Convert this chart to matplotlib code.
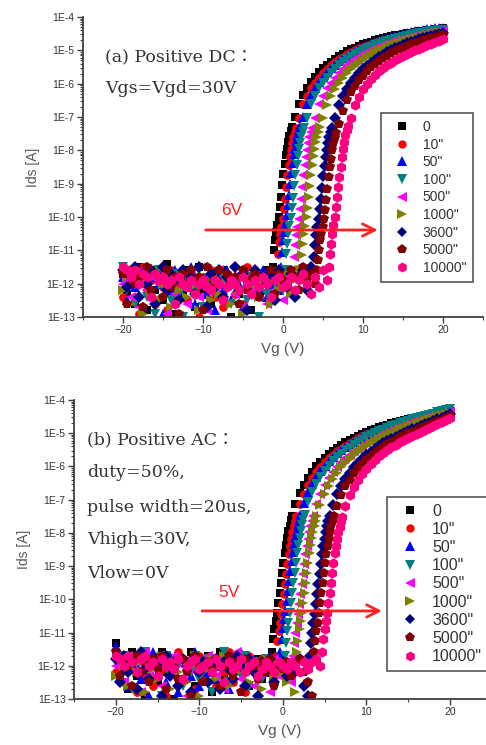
import numpy as np
import matplotlib
matplotlib.use('Agg')
import matplotlib.pyplot as plt
from matplotlib.ticker import FixedLocator, FuncFormatter, MultipleLocator, NullFormatter

plt.rcParams['font.family'] = ['Liberation Sans', 'DejaVu Sans']

labels = ['0', '10"', '50"', '100"', '500"', '1000"', '3600"', '5000"', '10000"']
colors = ['#000000', '#ff0000', '#0000ff', '#008080', '#ff00ff', '#808000', '#000080', '#800000', '#ff0080']
markers = ['s', 'o', '^', 'v', '<', '>', 'D', 'p', 'h']
msizes = [5.8, 6.3, 7.0, 7.0, 7.0, 7.0, 5.8, 7.3, 7.5]

# ---------------- (a) Positive DC : log10(Ids) ----------------
# off-state noise, Vg = -20, -19.5, ...
dc_off = [
    [-11.7, -12.3, -11.9, -12.6, -11.5, -12.0, -12.8, -11.6, -12.2, -11.8,
     -12.5, -11.4, -12.1, -12.9, -11.7, -12.3, -11.6, -12.0, -12.7, -11.5,
     -12.2, -11.9, -12.6, -11.8, -12.4, -11.6, -12.0, -13.0, -11.9, -12.3,
     -11.7, -12.1, -12.8, -11.8, -12.4, -12.0, -11.6, -12.2],
    [-12.4, -11.6, -12.0, -11.8, -12.9, -11.5, -12.2, -11.9, -12.6, -11.7,
     -12.1, -12.8, -11.6, -12.3, -12.0, -11.7, -12.5, -11.9, -12.2, -13.0,
     -11.8, -12.1, -11.6, -12.4, -11.9, -12.7, -11.7, -12.0, -12.3, -11.8,
     -12.6, -11.5, -12.2, -11.9, -12.4, -11.7, -12.0, -12.5, -11.8],
    [-11.8, -12.5, -11.6, -12.1, -11.9, -12.7, -11.5, -12.3, -11.8, -12.0,
     -12.9, -11.7, -12.2, -11.6, -12.4, -11.9, -12.1, -11.5, -12.6, -11.8,
     -12.0, -12.3, -11.7, -12.8, -11.9, -12.2, -11.6, -12.5, -11.8, -12.0,
     -12.7, -11.7, -12.3, -11.9, -12.1, -11.6, -12.4, -11.8, -12.0, -12.2],
    [-11.5, -12.2, -11.9, -12.6, -11.7, -12.0, -12.4, -11.8, -12.9, -11.6,
     -12.1, -11.9, -12.5, -11.7, -12.3, -13.0, -11.8, -12.0, -12.2, -11.6,
     -12.7, -11.9, -12.1, -11.7, -12.4, -11.8, -12.0, -12.6, -11.9, -12.2,
     -11.7, -12.5, -11.8, -12.1, -13.0, -11.9, -12.3, -11.8, -12.0, -11.7,
     -12.2],
    [-12.0, -11.7, -12.4, -11.9, -12.7, -11.6, -12.2, -11.8, -12.5, -12.0,
     -11.7, -12.9, -11.9, -12.3, -11.8, -12.1, -12.6, -11.7, -12.0, -12.4,
     -11.9, -12.8, -11.8, -12.2, -11.6, -12.5, -12.0, -11.9, -12.3, -11.7,
     -12.7, -11.8, -12.1, -12.4, -11.9, -12.0, -12.6, -11.8, -12.2, -11.9,
     -12.5, -12.1, -11.8],
    [-12.2, -11.8, -12.6, -11.7, -12.0, -12.9, -11.9, -12.3, -11.6, -12.5,
     -12.0, -11.8, -12.7, -11.9, -12.2, -11.7, -12.4, -12.1, -11.8, -12.8,
     -12.0, -11.9, -12.5, -11.7, -12.3, -12.0, -11.8, -12.6, -11.9, -12.2,
     -12.9, -11.8, -12.1, -11.7, -12.4, -12.0, -11.9, -12.6, -11.8, -12.2,
     -12.0, -11.7, -12.3, -11.9, -11.6],
    [-11.6, -12.1, -11.8, -11.5, -12.4, -11.7, -12.0, -11.6, -12.6, -11.8,
     -11.5, -12.2, -11.7, -11.9, -12.5, -11.6, -12.0, -11.8, -12.3, -11.5,
     -11.9, -12.7, -11.7, -12.1, -11.6, -12.4, -11.8, -12.0, -11.5, -12.2,
     -11.7, -12.8, -11.9, -11.6, -12.3, -11.8, -12.0, -11.7, -12.5, -11.6,
     -11.9, -12.1, -11.7, -12.4, -11.8, -11.6, -12.2, -11.5],
    [-11.7, -12.6, -11.6, -12.0, -11.8, -12.7, -11.5, -12.2, -11.7, -11.9,
     -12.4, -11.6, -12.1, -11.8, -12.9, -11.7, -12.0, -11.6, -12.3, -11.8,
     -12.8, -11.5, -12.1, -11.9, -11.6, -12.5, -11.7, -12.0, -11.8, -12.6,
     -11.6, -12.2, -11.9, -11.7, -12.4, -11.8, -12.0, -11.6, -12.3, -11.7,
     -11.9, -12.1, -11.6, -11.8, -12.2, -11.5, -11.9, -11.7, -12.0],
    [-11.5, -11.6, -11.8, -11.6, -12.0, -11.7, -11.8, -12.4, -11.7, -11.9,
     -11.8, -12.0, -11.9, -12.6, -11.8, -12.0, -12.1, -11.9, -12.3, -12.0,
     -11.9, -12.1, -12.2, -11.9, -12.0, -12.5, -12.1, -11.9, -12.0, -12.2,
     -11.8, -12.0, -12.3, -11.9, -12.1, -11.8, -12.0, -12.4, -11.9, -11.8,
     -12.1, -12.0, -11.8, -12.2, -11.9, -11.7, -12.0, -12.3, -11.8, -12.1,
     -11.6, -11.9],
]
# subthreshold rise, 0.15 V steps
dc_sub = [
    [-11.5, -11.0, -10.7, -10.45, -10.25, -10.0, -9.7, -9.4, -9.05, -8.7, -8.4, -8.15, -7.95, -7.75, -7.58, -7.43, -7.3],
    [-11.6, -11.1, -10.75, -10.5, -10.3, -10.05, -9.75, -9.45, -9.1, -8.75, -8.45, -8.2, -7.98, -7.78, -7.6, -7.45, -7.32],
    [-11.5, -11.05, -10.7, -10.45, -10.2, -9.95, -9.65, -9.35, -9.0, -8.68, -8.38, -8.12, -7.92, -7.72, -7.55, -7.4, -7.28],
    [-11.6, -11.1, -10.8, -10.5, -10.28, -10.02, -9.72, -9.42, -9.08, -8.74, -8.44, -8.18, -7.97, -7.77, -7.6, -7.45, -7.32],
    [-11.7, -11.2, -10.85, -10.55, -10.3, -10.05, -9.75, -9.45, -9.1, -8.75, -8.45, -8.2, -7.98, -7.78, -7.6, -7.45, -7.32],
    [-11.6, -11.15, -10.8, -10.5, -10.27, -10.0, -9.72, -9.4, -9.07, -8.73, -8.43, -8.17, -7.96, -7.76, -7.59, -7.44, -7.31],
    [-11.6, -11.2, -10.85, -10.55, -10.3, -10.05, -9.75, -9.45, -9.12, -8.78, -8.47, -8.2, -7.98, -7.78, -7.61, -7.46, -7.33],
    [-11.6, -11.3, -11.0, -10.7, -10.5, -10.3, -10.05, -9.8, -9.5, -9.15, -8.8, -8.5, -8.25, -8.0, -7.8, -7.62, -7.47],
    [-11.5, -11.1, -10.8, -10.5, -10.25, -10.0, -9.7, -9.4, -9.1, -8.8, -8.5, -8.2, -7.95, -7.75, -7.55, -7.4, -7.28],
]
# on-state, 0.5 V steps ending at Vg = 20
dc_on = [
    [-7.0, -6.6, -6.35, -6.12, -5.95, -5.8, -5.66, -5.54, -5.43, -5.34,
     -5.25, -5.17, -5.10, -5.03, -4.97, -4.92, -4.87, -4.82, -4.78, -4.74,
     -4.70, -4.67, -4.64, -4.61, -4.58, -4.55, -4.53, -4.51, -4.49, -4.47,
     -4.45, -4.43, -4.41, -4.40, -4.38, -4.37, -4.35, -4.34],
    [-7.02, -6.62, -6.37, -6.14, -5.97, -5.82, -5.68, -5.56, -5.45, -5.36,
     -5.27, -5.19, -5.12, -5.05, -4.99, -4.94, -4.89, -4.84, -4.80, -4.76,
     -4.72, -4.69, -4.66, -4.63, -4.60, -4.57, -4.55, -4.53, -4.51, -4.49,
     -4.47, -4.45, -4.43, -4.42, -4.40, -4.39, -4.37],
    [-7.0, -6.6, -6.35, -6.12, -5.95, -5.8, -5.66, -5.54, -5.43, -5.33,
     -5.24, -5.16, -5.09, -5.02, -4.96, -4.90, -4.85, -4.80, -4.76, -4.71,
     -4.67, -4.63, -4.60, -4.57, -4.54, -4.51, -4.48, -4.46, -4.43, -4.41,
     -4.39, -4.37, -4.36, -4.34, -4.33, -4.32],
    [-7.02, -6.62, -6.37, -6.14, -5.97, -5.82, -5.68, -5.56, -5.45, -5.36,
     -5.27, -5.19, -5.12, -5.05, -4.99, -4.94, -4.89, -4.84, -4.80, -4.76,
     -4.72, -4.68, -4.65, -4.62, -4.59, -4.56, -4.54, -4.51, -4.49, -4.47,
     -4.45, -4.43, -4.41, -4.40, -4.38],
    [-7.02, -6.62, -6.37, -6.14, -5.97, -5.82, -5.68, -5.56, -5.45, -5.36,
     -5.27, -5.19, -5.12, -5.05, -4.99, -4.94, -4.89, -4.84, -4.80, -4.76,
     -4.72, -4.68, -4.65, -4.62, -4.59, -4.56, -4.54, -4.51, -4.49, -4.47,
     -4.45, -4.43, -4.42],
    [-7.03, -6.63, -6.38, -6.15, -5.98, -5.83, -5.69, -5.57, -5.46, -5.37,
     -5.28, -5.20, -5.13, -5.06, -5.00, -4.95, -4.90, -4.85, -4.81, -4.77,
     -4.73, -4.69, -4.66, -4.63, -4.60, -4.57, -4.54, -4.51, -4.48, -4.46,
     -4.44],
    [-7.03, -6.63, -6.38, -6.15, -5.98, -5.83, -5.69, -5.57, -5.46, -5.37,
     -5.28, -5.20, -5.13, -5.06, -5.00, -4.94, -4.89, -4.84, -4.79, -4.75,
     -4.71, -4.67, -4.63, -4.60, -4.56, -4.53, -4.50, -4.47],
    [-7.2, -6.83, -6.5, -6.26, -6.06, -5.9, -5.76, -5.63, -5.51, -5.41,
     -5.32, -5.24, -5.16, -5.09, -5.03, -4.97, -4.92, -4.87, -4.82, -4.78,
     -4.74, -4.70, -4.66, -4.62, -4.59, -4.56, -4.53],
    [-7.02, -6.63, -6.39, -6.17, -6.01, -5.87, -5.74, -5.63, -5.53, -5.45,
     -5.37, -5.30, -5.23, -5.17, -5.11, -5.05, -5.00, -4.95, -4.90, -4.85,
     -4.80, -4.75, -4.71, -4.67],
]

# ---------------- (b) Positive AC : log10(Ids) ----------------
ac_off = [
    [-11.3, -12.1, -11.8, -12.7, -11.6, -12.3, -11.9, -12.9, -11.7, -12.0,
     -12.5, -11.6, -12.2, -11.8, -13.0, -11.7, -12.4, -12.0, -11.6, -12.6,
     -11.9, -12.2, -11.7, -12.8, -12.0, -11.6, -12.3, -11.8, -12.5, -11.9,
     -12.1, -11.7, -12.6, -12.0, -11.8, -12.4, -11.9, -12.2],
    [-12.2, -11.7, -12.5, -11.9, -12.0, -12.8, -11.6, -12.3, -11.8, -12.6,
     -11.7, -12.1, -12.9, -11.9, -12.2, -11.6, -12.4, -12.0, -11.8, -12.7,
     -11.7, -12.3, -11.9, -12.0, -12.6, -11.8, -12.2, -11.6, -12.5, -11.9,
     -12.1, -12.8, -11.7, -12.0, -12.4, -11.8, -12.2, -11.9, -12.3],
    [-11.4, -12.3, -11.9, -12.6, -11.7, -12.0, -12.4, -11.8, -12.9, -11.6,
     -12.2, -11.9, -12.5, -11.7, -12.1, -12.8, -11.8, -12.0, -12.3, -11.6,
     -12.6, -11.9, -12.2, -11.7, -12.4, -12.0, -11.8, -12.7, -11.9, -12.1,
     -11.6, -12.5, -11.8, -12.0, -13.0, -11.9, -12.2, -11.7, -12.4, -12.0],
    [-11.9, -12.4, -11.7, -12.0, -12.7, -11.8, -12.2, -11.6, -12.5, -11.9,
     -12.1, -12.9, -11.7, -12.3, -11.8, -12.0, -12.6, -11.9, -12.2, -11.7,
     -12.4, -12.0, -11.8, -12.8, -11.9, -12.1, -11.6, -12.5, -12.0, -11.8,
     -12.3, -11.7, -12.6, -11.9, -12.1, -12.4, -11.8, -12.0, -12.7, -11.9,
     -12.2],
    [-12.0, -11.8, -12.5, -11.7, -12.2, -11.9, -12.8, -11.6, -12.3, -12.0,
     -11.8, -12.6, -11.9, -12.1, -11.7, -12.4, -12.0, -12.9, -11.8, -12.2,
     -11.9, -12.5, -11.7, -12.0, -12.3, -11.8, -12.7, -11.9, -12.1, -11.6,
     -12.4, -12.0, -11.8, -12.6, -11.9, -12.2, -12.0, -12.8, -11.8, -12.3,
     -11.9, -12.1, -12.5],
    [-12.3, -11.8, -12.0, -12.6, -11.7, -12.2, -11.9, -12.8, -11.8, -12.1,
     -12.4, -11.7, -12.0, -12.7, -11.9, -12.2, -11.8, -12.5, -12.0, -11.7,
     -12.9, -11.9, -12.1, -11.8, -12.4, -12.0, -11.7, -12.6, -11.9, -12.2,
     -12.0, -11.8, -12.5, -11.9, -12.1, -12.7, -11.8, -12.0, -12.3, -11.9,
     -12.2, -12.5, -12.0, -12.8],
    [-11.8, -12.5, -11.7, -12.2, -11.9, -12.7, -11.6, -12.1, -12.4, -11.8,
     -12.0, -12.9, -11.7, -12.3, -11.9, -12.6, -11.8, -12.0, -12.8, -11.7,
     -12.2, -11.9, -12.5, -12.0, -11.8, -12.7, -11.9, -12.1, -12.4, -11.7,
     -12.0, -12.6, -11.8, -12.2, -12.9, -11.9, -12.1, -11.8, -12.5, -12.0,
     -11.9, -12.3, -12.0, -12.2, -11.8, -12.6, -12.9],
    [-11.6, -12.3, -11.8, -12.0, -12.6, -11.7, -12.2, -11.9, -12.5, -11.8,
     -12.1, -11.7, -12.7, -11.9, -12.0, -12.4, -11.8, -12.2, -12.9, -11.7,
     -12.0, -12.5, -11.9, -12.1, -11.8, -12.6, -12.0, -11.7, -12.3, -11.9,
     -12.8, -11.8, -12.1, -12.0, -12.4, -11.9, -12.2, -11.8, -12.6, -12.0,
     -12.1, -11.9, -12.3, -12.0, -11.8, -12.2, -12.5, -12.9],
    [-11.7, -11.8, -12.0, -11.7, -11.9, -12.2, -11.8, -11.7, -12.0, -11.9,
     -12.3, -11.8, -12.0, -11.9, -12.1, -11.8, -12.4, -12.0, -11.9, -11.8,
     -12.1, -12.0, -11.9, -12.2, -11.8, -12.0, -12.5, -11.9, -12.1, -12.0,
     -11.8, -12.2, -12.0, -11.9, -12.3, -12.1, -11.9, -12.0, -12.2, -11.9,
     -12.0, -12.1, -11.9, -12.0, -12.2, -11.9, -12.1, -11.9, -11.8, -12.0],
]
ac_sub = [
    [-11.6, -11.2, -10.9, -10.65, -10.4, -10.1, -9.8, -9.5, -9.2, -8.9, -8.6, -8.35, -8.15, -7.95, -7.78, -7.62, -7.48],
    [-11.7, -11.25, -10.95, -10.7, -10.45, -10.15, -9.85, -9.55, -9.25, -8.95, -8.65, -8.4, -8.18, -7.98, -7.8, -7.64, -7.5],
    [-11.6, -11.2, -10.85, -10.6, -10.35, -10.05, -9.75, -9.45, -9.15, -8.85, -8.57, -8.32, -8.12, -7.93, -7.76, -7.6, -7.46],
    [-11.7, -11.3, -10.95, -10.7, -10.42, -10.12, -9.82, -9.52, -9.22, -8.92, -8.62, -8.37, -8.15, -7.95, -7.77, -7.61, -7.47],
    [-11.7, -11.3, -11.0, -10.7, -10.45, -10.15, -9.85, -9.55, -9.25, -8.95, -8.65, -8.4, -8.18, -7.98, -7.8, -7.64, -7.5],
    [-11.6, -11.25, -10.9, -10.65, -10.4, -10.1, -9.8, -9.5, -9.2, -8.9, -8.62, -8.37, -8.16, -7.96, -7.79, -7.63, -7.49],
    [-11.7, -11.3, -11.0, -10.72, -10.45, -10.15, -9.85, -9.55, -9.25, -8.95, -8.65, -8.4, -8.18, -7.98, -7.8, -7.64, -7.5],
    [-11.6, -11.25, -10.95, -10.7, -10.42, -10.12, -9.82, -9.52, -9.22, -8.92, -8.63, -8.38, -8.17, -7.97, -7.8, -7.64, -7.5],
    [-11.6, -11.2, -10.9, -10.65, -10.4, -10.1, -9.8, -9.5, -9.2, -8.9, -8.62, -8.38, -8.17, -7.98, -7.81, -7.65, -7.51],
]
ac_on = [
    [-7.12, -6.8, -6.55, -6.34, -6.16, -6.0, -5.86, -5.74, -5.63, -5.53,
     -5.44, -5.35, -5.27, -5.2, -5.13, -5.07, -5.01, -4.96, -4.91, -4.86,
     -4.82, -4.78, -4.74, -4.70, -4.67, -4.63, -4.60, -4.57, -4.54, -4.51,
     -4.48, -4.46, -4.43, -4.41, -4.38, -4.36, -4.34, -4.32],
    [-7.14, -6.82, -6.57, -6.36, -6.18, -6.02, -5.88, -5.76, -5.65, -5.55,
     -5.46, -5.37, -5.29, -5.22, -5.15, -5.09, -5.03, -4.98, -4.93, -4.88,
     -4.84, -4.80, -4.76, -4.72, -4.69, -4.65, -4.62, -4.59, -4.56, -4.53,
     -4.50, -4.48, -4.45, -4.43, -4.40, -4.38, -4.35],
    [-7.1, -6.78, -6.53, -6.32, -6.14, -5.98, -5.84, -5.72, -5.61, -5.51,
     -5.42, -5.33, -5.25, -5.18, -5.11, -5.05, -4.99, -4.93, -4.88, -4.83,
     -4.79, -4.75, -4.71, -4.67, -4.64, -4.60, -4.57, -4.54, -4.51, -4.48,
     -4.45, -4.42, -4.39, -4.36, -4.33, -4.30],
    [-7.08, -6.77, -6.52, -6.31, -6.14, -5.98, -5.85, -5.73, -5.62, -5.52,
     -5.43, -5.35, -5.27, -5.19, -5.12, -5.06, -5.00, -4.94, -4.89, -4.84,
     -4.79, -4.74, -4.70, -4.66, -4.62, -4.58, -4.55, -4.51, -4.48, -4.44,
     -4.41, -4.37, -4.34, -4.31, -4.28],
    [-7.14, -6.82, -6.57, -6.36, -6.18, -6.02, -5.88, -5.76, -5.65, -5.55,
     -5.46, -5.37, -5.29, -5.22, -5.15, -5.08, -5.02, -4.96, -4.90, -4.85,
     -4.80, -4.75, -4.71, -4.66, -4.62, -4.58, -4.54, -4.51, -4.47, -4.44,
     -4.41, -4.38, -4.35],
    [-7.15, -6.83, -6.58, -6.37, -6.19, -6.03, -5.89, -5.77, -5.66, -5.56,
     -5.47, -5.38, -5.30, -5.23, -5.16, -5.10, -5.04, -4.98, -4.93, -4.88,
     -4.83, -4.78, -4.74, -4.69, -4.65, -4.61, -4.57, -4.53, -4.49, -4.45,
     -4.42, -4.38],
    [-7.15, -6.83, -6.58, -6.37, -6.19, -6.03, -5.89, -5.77, -5.66, -5.56,
     -5.47, -5.38, -5.30, -5.23, -5.16, -5.10, -5.04, -4.98, -4.93, -4.88,
     -4.83, -4.78, -4.73, -4.68, -4.63, -4.58, -4.53, -4.48, -4.43],
    [-7.18, -6.86, -6.6, -6.4, -6.21, -6.05, -5.92, -5.8, -5.69, -5.59,
     -5.5, -5.41, -5.33, -5.26, -5.19, -5.12, -5.06, -5.0, -4.95, -4.9,
     -4.84, -4.79, -4.74, -4.69, -4.64, -4.59, -4.54, -4.49],
    [-7.18, -6.86, -6.62, -6.41, -6.23, -6.07, -5.93, -5.81, -5.70, -5.60,
     -5.51, -5.42, -5.34, -5.27, -5.20, -5.13, -5.07, -5.01, -4.95, -4.89,
     -4.83, -4.77, -4.71, -4.66, -4.60, -4.55],
]


def sweep(off, sub, on):
    off_vg = -20 + 0.5 * np.arange(len(off))
    on_vg = 20 - 0.5 * np.arange(len(on))[::-1]
    sub_vg = on_vg[0] - 0.4 - 0.15 * np.arange(len(sub))[::-1]
    vg = np.concatenate([off_vg, sub_vg, on_vg])
    ids = 10.0 ** np.concatenate([off, sub, on])
    return vg, ids


AXC = '#404040'
TXT = '#333333'

fig = plt.figure(figsize=(4.86, 7.45), dpi=100)
ax1 = fig.add_axes([83 / 486, 1 - 317 / 745, 400 / 486, 300 / 745])
ax2 = fig.add_axes([74 / 486, 1 - 699 / 745, 411 / 486, 299 / 745])


def style(ax, xmax):
    ax.set_yscale('log')
    ax.set_ylim(1e-13, 1e-4)
    ax.set_xlim(-25, xmax)
    for s in ['top', 'right']:
        ax.spines[s].set_visible(False)
    for s in ['left', 'bottom']:
        ax.spines[s].set_color(AXC)
        ax.spines[s].set_linewidth(1.3)
    ax.yaxis.set_major_locator(FixedLocator([10.0 ** e for e in range(-13, -3)]))
    ax.yaxis.set_minor_locator(FixedLocator([m * 10.0 ** e for e in range(-13, -4) for m in range(2, 10)]))
    ax.yaxis.set_major_formatter(FuncFormatter(lambda v, p: '1E%d' % int(round(np.log10(v)))))
    ax.yaxis.set_minor_formatter(NullFormatter())
    ax.xaxis.set_major_locator(MultipleLocator(10))
    ax.xaxis.set_minor_locator(MultipleLocator(5))
    ax.tick_params(which='major', direction='out', length=4, width=1.0, color=AXC,
                   labelsize=7.5, labelcolor=TXT, pad=2)
    ax.tick_params(which='minor', direction='out', length=2, width=0.8, color=AXC)
    ax.set_xlabel('Vg (V)', fontsize=11, color='#555555', labelpad=5)
    ax.set_ylabel('Ids [A]', fontsize=10, color='#555555', labelpad=5)


style(ax1, 25)
style(ax2, 24.2)

for ax, OFF, SUB, ON in [(ax1, dc_off, dc_sub, dc_on), (ax2, ac_off, ac_sub, ac_on)]:
    for i in range(9):
        vg, ids = sweep(OFF[i], SUB[i], ON[i])
        ax.plot(vg, ids, linestyle='none', marker=markers[i], ms=msizes[i],
                mfc=colors[i], mec=colors[i], mew=0, label=labels[i])

# legends
leg1 = ax1.legend(loc='upper left', bbox_to_anchor=(0.745, 0.68), fontsize=10,
                  frameon=True, fancybox=False, edgecolor='#555555', framealpha=1,
                  borderaxespad=0, labelspacing=0.26, handlelength=2.0,
                  handletextpad=0.5, borderpad=0.5, markerscale=0.95)
leg1.get_frame().set_linewidth(1.2)
for t in leg1.get_texts():
    t.set_color(TXT)
leg2 = ax2.legend(loc='upper left', bbox_to_anchor=(0.762, 0.676), fontsize=11.5,
                  frameon=True, fancybox=False, edgecolor='#555555', framealpha=1,
                  borderaxespad=0, labelspacing=0.2, handlelength=2.0,
                  handletextpad=0.4, borderpad=0.42, markerscale=0.95)
leg2.get_frame().set_linewidth(1.2)
for t in leg2.get_texts():
    t.set_color(TXT)

# annotations
serif = ['DejaVu Serif', 'Noto Sans CJK KR']
ax1.text(0.055, 0.863, '(a) Positive DC：', transform=ax1.transAxes, fontsize=12.5,
         family=serif, color=TXT, va='center', ha='left')
ax1.text(0.055, 0.763, 'Vgs=Vgd=30V', transform=ax1.transAxes, fontsize=12.5,
         family=serif, color=TXT, va='center', ha='left')
b_lines = ['(b) Positive AC：', 'duty=50%,', 'pulse width=20us,', 'Vhigh=30V,', 'Vlow=0V']
b_y = [0.866, 0.756, 0.642, 0.532, 0.421]
for s, yy in zip(b_lines, b_y):
    ax2.text(0.032, yy, s, transform=ax2.transAxes, fontsize=12.5, family=serif,
             color=TXT, va='center', ha='left')

arrow = dict(arrowstyle='->', color='#ff2020', lw=2, mutation_scale=22)
ax1.annotate('', xy=(12.2, 10 ** -10.39), xytext=(-10, 10 ** -10.39), arrowprops=arrow)
ax1.text(-6.4, 10 ** -9.8, '6V', color='#ff2020', fontsize=12.5, ha='center', va='center')
ax2.annotate('', xy=(12.2, 10 ** -10.35), xytext=(-10, 10 ** -10.35), arrowprops=arrow)
ax2.text(-6.5, 10 ** -9.8, '5V', color='#ff2020', fontsize=12.5, ha='center', va='center')

fig.savefig('out.png', dpi=100)
